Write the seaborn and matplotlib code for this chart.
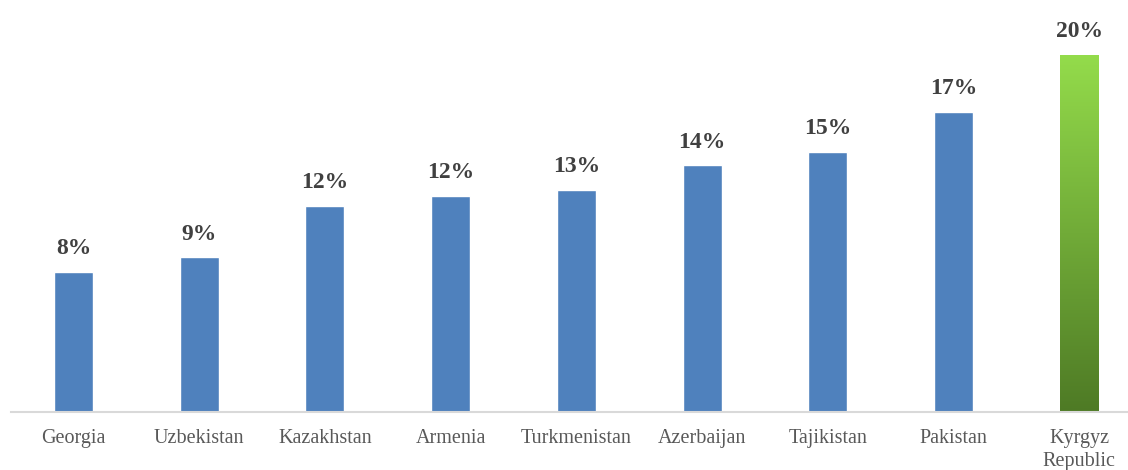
import matplotlib
matplotlib.use('Agg')
import matplotlib.pyplot as plt
import seaborn as sns
import numpy as np
import pandas as pd
from matplotlib.colors import LinearSegmentedColormap

countries = ['Georgia', 'Uzbekistan', 'Kazakhstan', 'Armenia', 'Turkmenistan',
             'Azerbaijan', 'Tajikistan', 'Pakistan', 'Kyrgyz\nRepublic']
shares = [7.86, 8.67, 11.54, 12.12, 12.44, 13.83, 14.57, 16.81, 20.0]
labels = ['8%', '9%', '12%', '12%', '13%', '14%', '15%', '17%', '20%']

blue = '#4F81BD'
green_top = '#94DC4B'
green_bottom = '#4E7A25'

sns.set_style('white')
plt.rcParams['font.family'] = ['Liberation Serif', 'DejaVu Serif']

df = pd.DataFrame({'country': countries, 'share': shares})

fig = plt.figure(figsize=(11.28, 4.70), dpi=100)
ax = fig.add_axes([10.6 / 1128, 58 / 470, 1131.6 / 1128, 412 / 470])

palette = {c: blue for c in countries}
sns.barplot(data=df, x='country', y='share', hue='country', palette=palette,
            width=0.31, legend=False, saturation=1, ax=ax)

# gradient fill for the highlighted bar
bar = ax.patches[-1]
bar.set_facecolor('none')
x0, y0 = bar.get_x(), bar.get_y()
w, h = bar.get_width(), bar.get_height()
cmap = LinearSegmentedColormap.from_list('grn', [green_bottom, green_top])
grad = np.linspace(0, 1, 256).reshape(-1, 1)
img = ax.imshow(grad, cmap=cmap, aspect='auto', origin='lower',
                extent=[x0, x0 + w, y0, y0 + h], zorder=bar.get_zorder())
img.set_clip_path(bar)
ax.set_xlim(-0.5, 8.5)
ax.set_ylim(0, 23.08)

for i, (v, lab) in enumerate(zip(shares, labels)):
    ax.annotate(lab, (i, v), xytext=(0, 9), textcoords='offset points',
                ha='center', va='bottom', fontsize=17, fontweight='bold',
                color='#404040')

ax.set_xlabel('')
ax.set_ylabel('')
ax.set_yticks([])
ax.tick_params(axis='x', length=0, pad=12, labelsize=14.5, labelcolor='#595959')
for lab in ax.get_xticklabels():
    lab.set_linespacing(1.3)
for s in ['top', 'right', 'left']:
    ax.spines[s].set_visible(False)
ax.spines['bottom'].set_color('#D9D9D9')
ax.spines['bottom'].set_linewidth(1.5)

fig.savefig('out.png', dpi=100)
